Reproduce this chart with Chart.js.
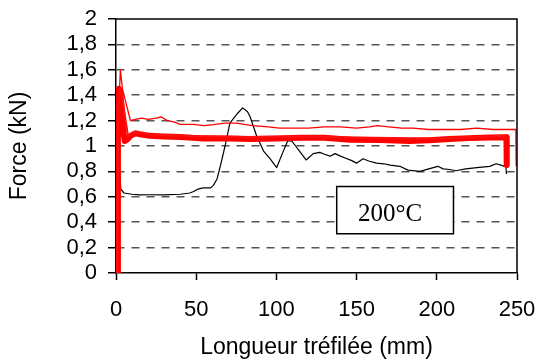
<!DOCTYPE html>
<html>
<head>
<meta charset="utf-8">
<script src="https://cdn.jsdelivr.net/npm/chart.js@4/dist/chart.umd.min.js"></script>
<style>
  html, body { margin: 0; padding: 0; background: #fff; }
  #wrap { width: 539px; height: 362px; position: relative; }
</style>
</head>
<body>
<div id="wrap"><canvas id="c" width="539" height="362"></canvas></div>
<script>
// ---- Data ----
const xTickLabels = ['0', '50', '100', '150', '200', '250'];
const yTickLabels = ['0', '0,2', '0,4', '0,6', '0,8', '1', '1,2', '1,4', '1,6', '1,8', '2'];

// thin red curve
const thinRedX = [0.7, 1.5, 2.7, 4, 6, 8, 9, 12, 16, 20, 25, 28, 32, 36, 40, 48, 55, 62, 68, 75, 85, 95, 102, 110, 120, 130, 140, 150, 158, 163, 170, 178, 185, 195, 205, 215, 225, 235, 245, 249.3, 249.5];
const thinRedY = [0, 1.2, 1.6, 1.45, 1.35, 1.25, 1.2, 1.21, 1.22, 1.21, 1.22, 1.23, 1.2, 1.19, 1.17, 1.17, 1.16, 1.17, 1.18, 1.18, 1.16, 1.15, 1.14, 1.14, 1.14, 1.15, 1.15, 1.14, 1.15, 1.16, 1.15, 1.14, 1.14, 1.13, 1.13, 1.13, 1.14, 1.13, 1.13, 1.13, 0.84];

// secondary red curve (upper edge of the band)
const midRedX = [0.7, 1.5, 2.5, 4, 6, 7.5, 9, 12, 20, 40, 80, 120, 160, 200, 243];
const midRedY = [0, 1.35, 1.45, 1.38, 1.2, 1.08, 1.09, 1.11, 1.09, 1.08, 1.07, 1.075, 1.065, 1.06, 1.08];

// thick red curve
const thickRedX = [0.7, 1.2, 1.8, 2.6, 3.5, 4.5, 5.5, 7, 9, 12, 16, 21, 30, 40, 53, 70, 84, 100, 115, 130, 146, 165, 183, 195, 208, 220, 233, 243.4, 243.6];
const thickRedY = [0, 1.2, 1.45, 1.43, 1.3, 1.12, 1.04, 1.05, 1.08, 1.1, 1.09, 1.08, 1.075, 1.07, 1.06, 1.06, 1.056, 1.06, 1.064, 1.065, 1.05, 1.048, 1.04, 1.045, 1.056, 1.062, 1.066, 1.068, 0.85];

// black curve
const blackX = [0.8, 1.7, 2.3, 3, 5, 10, 15, 21, 30, 40, 46, 48, 51, 54.5, 59, 60.7, 63, 65, 68, 71, 76, 79, 82, 83.6, 87.8, 92, 96, 100.2, 104, 107, 109.5, 112, 115, 118.5, 123, 127, 130, 133.5, 136.5, 140, 144, 147, 150, 154, 158, 162.5, 167, 171, 177, 182, 189.5, 195, 200.6, 204, 208, 212, 218, 225, 233, 237, 240, 242, 243, 243.4];
const blackY = [0, 0.89, 0.78, 0.66, 0.63, 0.62, 0.615, 0.616, 0.615, 0.62, 0.63, 0.64, 0.66, 0.67, 0.67, 0.69, 0.74, 0.84, 1.0, 1.18, 1.26, 1.3, 1.27, 1.23, 1.075, 0.96, 0.9, 0.83, 0.95, 1.04, 1.04, 1.0, 0.95, 0.89, 0.94, 0.95, 0.935, 0.92, 0.94, 0.92, 0.9, 0.885, 0.865, 0.9, 0.88, 0.865, 0.86, 0.85, 0.84, 0.81, 0.8, 0.82, 0.84, 0.82, 0.815, 0.805, 0.82, 0.83, 0.84, 0.86, 0.85, 0.84, 0.855, 0.78];

const boxLabel = '200°C';

function pts(xs, ys) { return xs.map((x, i) => ({ x: x, y: ys[i] })); }

Chart.defaults.font.family = "'Liberation Sans', Arial, sans-serif";
Chart.defaults.color = '#000';

const labelBoxPlugin = {
  id: 'labelBox',
  afterDatasetsDraw(chart) {
    const { ctx, scales: { x, y } } = chart;
    const x0 = x.getPixelForValue(137.6), x1 = x.getPixelForValue(210.4);
    const y0 = y.getPixelForValue(0.681), y1 = y.getPixelForValue(0.309);
    ctx.save();
    ctx.fillStyle = '#fff';
    ctx.fillRect(x0, y0, x1 - x0, y1 - y0);
    ctx.strokeStyle = '#000';
    ctx.lineWidth = 1.5;
    ctx.strokeRect(x0, y0, x1 - x0, y1 - y0);
    ctx.fillStyle = '#000';
    ctx.font = "25px 'Liberation Serif', 'Times New Roman', serif";
    ctx.textAlign = 'center';
    ctx.textBaseline = 'alphabetic';
    ctx.fillText(boxLabel, (x0 + x1) / 2 - 5, y1 - 12.5);
    ctx.restore();
  },
  afterDraw(chart) {
    const { ctx, chartArea: a } = chart;
    ctx.save();
    ctx.strokeStyle = '#000';
    ctx.lineWidth = 1.5;
    ctx.beginPath();
    ctx.moveTo(a.left, a.top);
    ctx.lineTo(a.right, a.top);
    ctx.lineTo(a.right, a.bottom);
    ctx.stroke();
    ctx.restore();
  }
};

new Chart(document.getElementById('c'), {
  type: 'line',
  data: {
    datasets: [
      { label: 'noir', data: pts(blackX, blackY), borderColor: '#000', borderWidth: 1.2, order: 4 },
      { label: 'rouge fin', data: pts(thinRedX, thinRedY), borderColor: '#ff0000', borderWidth: 1.3, order: 3 },
      { label: 'rouge épais', data: pts(thickRedX, thickRedY), borderColor: '#ff0000', borderWidth: 6, order: 2 },
      { label: 'rouge 2', data: pts(midRedX, midRedY), borderColor: '#ff1010', borderWidth: 2, order: 1 }
    ]
  },
  options: {
    responsive: false,
    animation: false,
    devicePixelRatio: 1,
    elements: { point: { radius: 0 }, line: { tension: 0, borderJoinStyle: 'round' } },
    plugins: { legend: { display: false }, tooltip: { enabled: false } },
    layout: { padding: { top: 19, right: 22, left: 0, bottom: 0 } },
    scales: {
      x: {
        type: 'linear', min: 0, max: 250,
        afterFit(s) { s.height = 89; s.paddingLeft = 0; s.paddingRight = 0; },
        ticks: { stepSize: 50, font: { size: 22 }, padding: 17, maxRotation: 0, autoSkip: false,
                 callback: (v) => xTickLabels[Math.round(v / 50)] },
        grid: { drawOnChartArea: false, drawTicks: true, tickLength: 7, tickColor: '#000', tickWidth: 1.5 },
        border: { display: true, color: '#000', width: 1.5 },
        title: { display: true, text: 'Longueur tréfilée (mm)', font: { size: 23 }, padding: { top: 0, bottom: 1 } }
      },
      y: {
        type: 'linear', min: 0, max: 2,
        afterFit(s) { s.width = 116; s.paddingTop = 0; s.paddingBottom = 0; },
        ticks: { stepSize: 0.2, font: { size: 22 }, padding: 11, autoSkip: false,
                 callback: (v, i) => yTickLabels[i] },
        grid: {
          drawOnChartArea: true, tickLength: 8, tickColor: '#000', tickWidth: 1.5,
          lineWidth: 1.5,
          color: (c) => (c.index === 0 || c.index === 10) ? 'rgba(0,0,0,0)' : '#555'
        },
        border: { display: true, color: '#000', width: 1.5, dash: [8, 7] },
        title: { display: true, text: 'Force (kN)', font: { size: 23 }, padding: { top: 6, bottom: 0 } }
      }
    }
  },
  plugins: [labelBoxPlugin]
});
</script>
</body>
</html>
